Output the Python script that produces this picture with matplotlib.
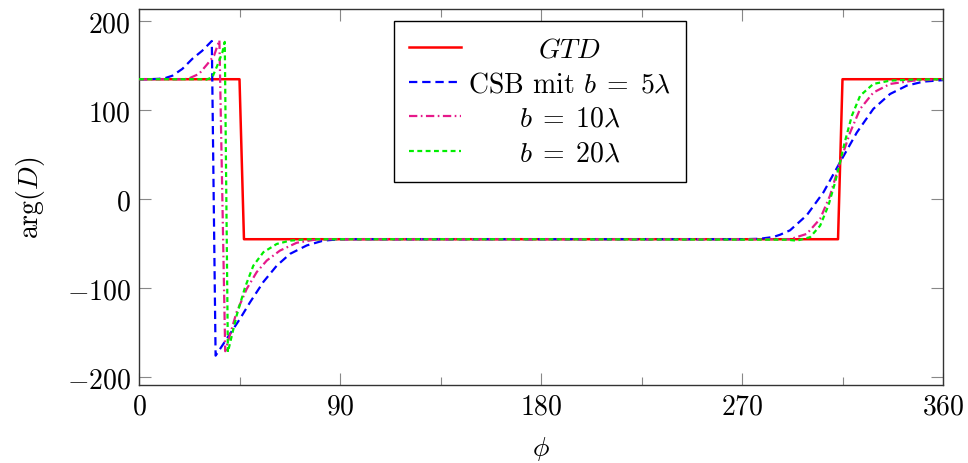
import matplotlib
matplotlib.use("Agg")
import matplotlib.pyplot as plt
from matplotlib.ticker import FixedLocator

plt.rcParams['font.family'] = 'serif'
plt.rcParams['font.serif'] = ['cmr10', 'DejaVu Serif']
plt.rcParams['mathtext.fontset'] = 'cm'
plt.rcParams['axes.formatter.use_mathtext'] = True
plt.rcParams['lines.scale_dashes'] = False

# ---- data ----
gtd_x = [0, 45, 47, 313, 315, 360]
gtd_y = [135, 135, -45, -45, 135, 135]

b5_x = [0, 5, 9, 12, 15, 19.4, 23.9, 28.3, 32.6, 34.3, 39.3, 45.2, 49.7, 55.7, 61.7,
        67.6, 75.1, 82.5, 90, 180, 270, 278, 284, 287, 291.5, 299, 306.5, 313.9, 321.4,
        328.8, 336.3, 343.8, 351.2, 360]
b5_y = [135, 135, 135.5, 136.5, 139, 146.6, 158, 167, 178, -176, -157, -134.6, -116, -93, -74.7,
        -61.5, -52, -46.6, -45, -45, -45, -44.5, -42.5, -40, -35, -18, 7.9, 41.6, 75,
        101.6, 118.4, 127.8, 132.3, 134]

b10_x = [0, 20, 22, 26.9, 30.6, 33.6, 36.0, 38.6, 43.7, 48.2, 52.7, 57.2, 63.1, 70.6, 78, 85,
         180, 285, 291.5, 299, 305, 309.4, 313.9, 318.4, 322.9, 328.8, 336.3, 346.7, 360]
b10_y = [135, 135, 135.5, 141, 152, 161.5, 179, -171, -127, -101, -82, -69, -57.8, -49, -45.8, -45,
         -45, -45, -45, -39, -22, 4, 41.6, 75, 101.6, 120, 129.7, 133.4, 135]

b20_x = [0, 28, 30, 32.8, 35, 37.3, 38.4, 39.8, 43.7, 47.5, 51.2, 55.7, 61.7, 67.6, 75, 180,
         290, 294.5, 300.5, 305, 308.7, 311.7, 313.9, 316, 319.2, 322.9, 328.8, 336.3, 345, 360]
b20_y = [135, 135, 134.5, 137, 150, 165, 177, -172, -131, -99, -74.7, -59.6, -50.3, -46.6, -45, -45,
         -45.5, -46.6, -42.7, -29.7, -7, 19, 41.6, 64, 94, 116.5, 129.7, 133.4, 134.5, 135]

labels = [r'$GTD$', r'CSB mit $b\;=\;5\lambda$', r'$b\;=\;10\lambda$', r'$b\;=\;20\lambda$']
xticks = [0, 90, 180, 270, 360]
yticks = [-200, -100, 0, 100, 200]

fig = plt.figure(figsize=(9.68, 4.64), dpi=100)
ax = fig.add_axes([139/968, (464-386)/464, 804/968, 376/464])

lw = 1.6
ax.plot(gtd_x, gtd_y, color='#ff0000', lw=1.8, label=labels[0], zorder=3)
ax.plot(b5_x, b5_y, color='#0000ff', lw=lw, dashes=(6, 3.5), label=labels[1], zorder=4)
ax.plot(b10_x, b10_y, color='#e6198a', lw=lw, dashes=(6, 2.5, 1.2, 2.5), label=labels[2], zorder=5)
ax.plot(b20_x, b20_y, color='#00ee00', lw=lw, dashes=(3.5, 2.5), label=labels[3], zorder=6)

ax.set_xlim(0, 360)
ax.set_ylim(-209, 214)
ax.set_xticks(xticks)
ax.set_yticks(yticks)
ax.xaxis.set_minor_locator(FixedLocator([45, 135, 225, 315]))

for s in ax.spines.values():
    s.set_color('#333333')
    s.set_linewidth(1.0)

ax.tick_params(axis='both', which='major', direction='in', length=8.5, width=0.8,
               color='#888888', labelsize=20, top=True, right=True, pad=6)
ax.tick_params(axis='x', which='minor', direction='in', length=5.5, width=0.8,
               color='#888888', top=True)

ax.set_xlabel(r'$\phi$', fontsize=20, labelpad=10)
ax.set_ylabel(r'$\arg(D)$', fontsize=20)
ax.yaxis.set_label_coords(-0.115, 0.5)

leg = ax.legend(loc='upper left', bbox_to_anchor=(0.317, 0.968), borderaxespad=0,
                fontsize=20, frameon=True, fancybox=False, edgecolor='black',
                framealpha=1, handlelength=1.87, handletextpad=0.25,
                labelspacing=0.3, borderpad=0.55)
leg.get_frame().set_linewidth(1.0)

fig.canvas.draw()
r = fig.canvas.get_renderer()
texts = leg.get_texts()
ws = [t.get_window_extent(r).width for t in texts]
W = max(ws)
for t, w in zip(texts, ws):
    t.set_position(((W - w) / 2, 0))

fig.savefig('out.png', dpi=100)
